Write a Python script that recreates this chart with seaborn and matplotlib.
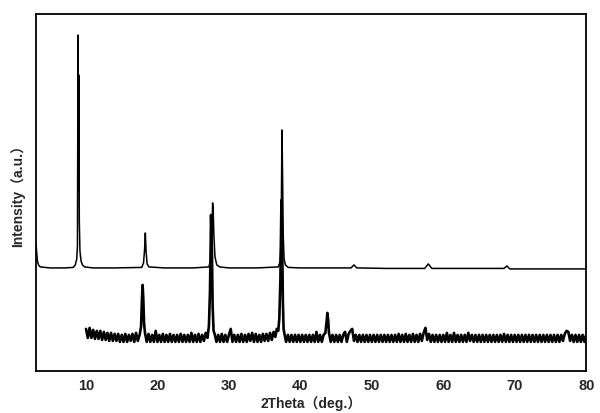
import numpy as np
import matplotlib
matplotlib.use("Agg")
import matplotlib.pyplot as plt
import seaborn as sns

# upper pattern (smooth), x in deg 2theta, y in arbitrary units
upper_x = [3.0, 3.1, 3.2, 3.35, 3.6, 5.0, 7.0, 8.2, 8.5, 8.7, 8.8, 8.88, 8.95, 9.0, 9.06, 9.15, 9.3, 9.5, 9.8,
           11.0, 14.0, 17.8, 18.05, 18.2, 18.3, 18.4, 18.55, 18.8, 21.0, 25.0,
           27.2, 27.45, 27.6, 27.72, 27.8, 27.9, 28.05, 28.3, 28.7, 30.0, 34.0,
           36.9, 37.15, 37.3, 37.42, 37.5, 37.6, 37.72, 37.9, 38.3, 40.0, 45.0,
           47.1, 47.5, 47.9, 52.0, 57.4, 57.9, 58.4, 63.0, 68.5, 68.9, 69.3, 75.0, 80.0]
upper_y = [128, 118, 110, 106, 104, 103, 103, 103.5, 106, 112, 125, 336, 180, 296, 150, 120, 110, 106, 104,
           103, 103, 103.5, 108, 122, 138, 120, 107, 104, 103, 103,
           104, 112, 135, 168, 160, 135, 114, 106, 104, 103, 103,
           104, 109, 130, 241, 200, 135, 112, 106, 103.5, 103, 103,
           103, 106, 103, 102.5, 102.5, 107, 102.5, 102.5, 102.5, 105, 102, 102, 102]

# lower pattern (noisy), background read on a 0.25 deg grid, peaks read separately
bg1_y = [42, 33, 43, 33, 41, 32, 40, 32, 40, 31, 39, 31, 38, 30, 38, 30,
         37, 30, 37, 29, 36, 29, 37, 29, 36, 30, 37, 29, 38, 30, 36]
pk1_x = [17.7, 17.82, 17.92, 18.02, 18.12, 18.25]
pk1_y = [44, 70, 86, 72, 48, 38]
bg2_y = [29, 37, 29, 36, 29, 40, 29, 36, 29, 37, 29, 36, 29, 37, 29, 36, 29, 36,
         29, 37, 29, 36, 29, 36, 29, 38, 29, 36, 29, 37, 29, 36, 30, 38, 33]
pk2_x = [27.2, 27.35, 27.5, 27.62, 27.72, 27.85]
pk2_y = [45, 80, 156, 120, 65, 40]
bg3_y = [37, 29, 36, 29, 37, 29, 36, 29, 36, 42, 29, 36, 29, 36, 29, 37, 29, 36,
         29, 37, 30, 38, 29, 37, 29, 36, 29, 37, 30, 37, 30, 38, 31, 39, 34]
pk3_x = [36.7, 36.9, 37.05, 37.2, 37.35, 37.45, 37.55, 37.65, 37.8]
pk3_y = [42, 40, 52, 90, 171, 130, 70, 42, 36]
bg4_y = [29, 36, 29, 36, 29, 36, 29, 36, 29, 36, 29, 36, 29, 36, 29, 36, 29, 39,
         29, 36, 29, 36]
pk4_x = [43.5, 43.65, 43.78, 43.9, 44.0]
pk4_y = [38, 48, 58, 50, 38]
bg5_y = [29, 36, 29, 36, 29, 36, 29, 36, 39, 29, 37, 40, 42, 30, 36, 29, 36, 29, 36, 29,
         36, 29, 36, 29, 36, 29, 36, 29, 36, 29, 36, 29, 36, 29, 36, 29, 36, 29, 37, 29,
         36, 29, 37, 29, 36, 29, 37, 29, 36, 29, 37, 30, 38, 43, 31, 37, 29, 36, 29, 36,
         29, 36, 29, 36, 29, 38, 29, 36, 29, 38, 29, 36, 29, 36, 29, 36, 29, 38, 30, 36,
         29, 36, 29, 36, 29, 36, 29, 36, 29, 36, 29, 36, 29, 36, 29, 36, 29, 37, 29, 36,
         29, 36, 29, 36, 29, 36, 29, 36, 29, 36, 29, 36, 29, 36, 29, 36, 29, 36, 29, 36,
         29, 36, 29, 36, 29, 36, 29, 36, 29, 36, 30, 37, 40, 39, 30, 36, 29, 36, 29, 36,
         29, 36, 29, 36]

xticks = [10, 20, 30, 40, 50, 60, 70, 80]

step = 0.25
lower_x = np.concatenate([np.arange(10.0, 17.5 + 1e-6, step), pk1_x,
                          np.arange(18.5, 27.0 + 1e-6, step), pk2_x,
                          np.arange(28.0, 36.5 + 1e-6, step), pk3_x,
                          np.arange(38.0, 43.25 + 1e-6, step), pk4_x,
                          np.arange(44.25, 80.0 + 1e-6, step)])
lower_y = np.concatenate([bg1_y, pk1_y, bg2_y, pk2_y, bg3_y, pk3_y, bg4_y, pk4_y, bg5_y])
assert len(lower_x) == len(lower_y), (len(lower_x), len(lower_y))
assert len(upper_x) == len(upper_y), (len(upper_x), len(upper_y))

sns.set_style("white")
plt.rcParams['font.family'] = ['Liberation Sans', 'Noto Sans CJK SC', 'DejaVu Sans']
plt.rcParams['font.weight'] = 'bold'

fig = plt.figure(figsize=(6.0, 4.13), dpi=100)
ax = fig.add_axes([0.06, 0.102, 0.917, 0.864])

sns.lineplot(x=upper_x, y=upper_y, ax=ax, color='black', linewidth=1.1,
             sort=False, estimator=None)
sns.lineplot(x=lower_x, y=lower_y, ax=ax, color='black', linewidth=1.9,
             sort=False, estimator=None)

ax.set_xlim(3, 80)
ax.set_ylim(0, 357)
ax.set_xticks(xticks)
ax.set_xticklabels([str(t) for t in xticks], fontsize=10.5, fontweight='bold')
ax.set_yticks([])
ax.tick_params(axis='x', length=0, pad=6)
for s in ax.spines.values():
    s.set_color('black')
    s.set_linewidth(1.3)

ax.set_xlabel('2Theta（deg.）', fontsize=10, fontweight='bold', labelpad=2)
ax.set_ylabel('Intensity（a.u.）', fontsize=10, fontweight='bold', labelpad=8)

fig.savefig('out.png', dpi=100)
